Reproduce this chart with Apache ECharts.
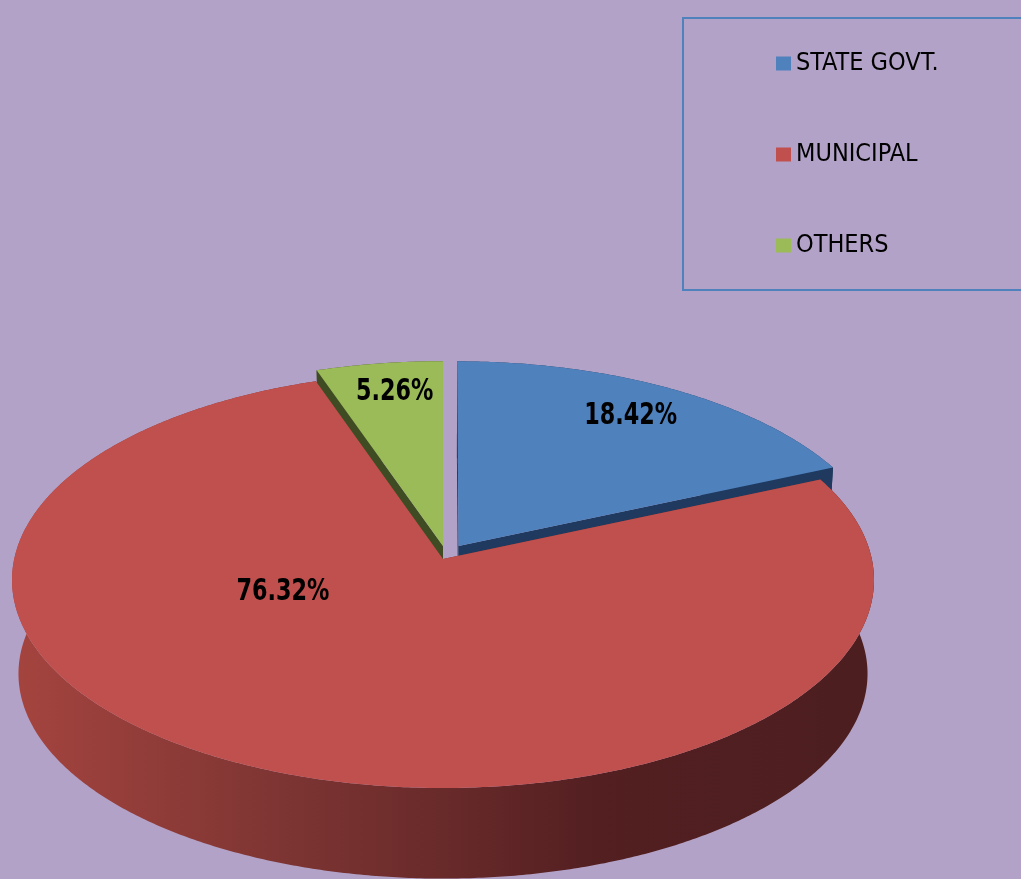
<!DOCTYPE html>
<html><head><meta charset="utf-8">
<script src="https://cdn.jsdelivr.net/npm/echarts@6/dist/echarts.min.js"></script>
<style>html,body{margin:0;padding:0;background:#B3A2C7}#c{width:1021px;height:879px}</style>
</head><body><div id="c"></div>
<script>
// ---- data ----
const categories = ['STATE GOVT.', 'MUNICIPAL', 'OTHERS'];
const counts = [7, 29, 2];

// ---- styles / layout ----
const topColors = ['#4F81BD', '#C0504D', '#9BBB59'];
const cutColors = ['#1F3A5E', '#7A3232', '#3F4B22'];
const geo = {cx: 443, cy: 580, rx: 431, ry: 208, vb: -0.101, depth: 94, shrink: 0.985};
const explode = [{d: 0.073, a: -60}, {d: 0, a: 0}, {d: 0.064, a: -90}];
const labelPos = [{r: 0.81, a: -57.6}, {r: 0.40, a: 156.7}, {r: 0.83, a: -98.5}];
const narrow = '"Liberation Sans Narrow", "Arial Narrow", "DejaVu Sans Condensed", sans-serif';

const total = counts.reduce((a, b) => a + b, 0);
const gamma = 1 / Math.sqrt(1 - geo.vb * geo.vb);
const rad = d => d * Math.PI / 180;
function project(x, y) {
  const den = 1 + geo.vb * y;
  return [geo.cx + geo.rx * x / (gamma * den), geo.cy + geo.ry * (y + geo.vb) / den];
}
const P = project(0, 0);
function lower(pt) {
  return [P[0] + geo.shrink * (pt[0] - P[0]), P[1] + geo.shrink * (pt[1] - P[1]) + geo.depth];
}
const sideFill = (i) => i === 1 ? new echarts.graphic.LinearGradient(12, 0, 874, 0, [
  {offset: 0, color: '#A5443F'}, {offset: 0.33, color: '#7B3432'}, {offset: 0.5, color: '#692A2A'},
  {offset: 0.68, color: '#531F21'}, {offset: 1, color: '#4C1E20'}], true) : cutColors[i];

function makeRender(i) {
  return function (params, api) {
    const val = api.value(0);
    let cum = 0;
    for (let k = 0; k < i; k++) cum += counts[k];
    const a0 = -90 + 360 * cum / total;
    const a1 = a0 + 360 * val / total;
    const ex = explode[i];
    const ox = ex.d * Math.cos(rad(ex.a)), oy = ex.d * Math.sin(rad(ex.a));
    const arc = [];
    const steps = Math.max(4, Math.ceil((a1 - a0) / 0.5));
    for (let s = 0; s <= steps; s++) {
      const t = rad(a0 + (a1 - a0) * s / steps);
      arc.push(project(Math.cos(t) + ox, Math.sin(t) + oy));
    }
    const apex = project(ox, oy);
    const children = [];
    const wall = arc.concat(arc.slice().reverse().map(lower));
    children.push({type: 'polygon', shape: {points: wall}, style: {fill: sideFill(i)}, z2: 0});
    const first = arc[0], last = arc[arc.length - 1];
    children.push({type: 'polygon', shape: {points: [apex, first, lower(first), lower(apex)]}, style: {fill: cutColors[i]}, z2: 1});
    children.push({type: 'polygon', shape: {points: [apex, last, lower(last), lower(apex)]}, style: {fill: cutColors[i]}, z2: 1});
    children.push({type: 'polygon', shape: {points: [apex].concat(arc)}, style: {fill: topColors[i]}, z2: 2});
    const lp = labelPos[i];
    const lxy = project(lp.r * Math.cos(rad(lp.a)) + ox, lp.r * Math.sin(rad(lp.a)) + oy);
    children.push({type: 'text', z2: 5, x: lxy[0], y: lxy[1], scaleX: 0.8, style: {
      text: (val / total * 100).toFixed(2) + '%', x: 0, y: 0,
      align: 'center', verticalAlign: 'middle', fill: '#000',
      fontSize: 31, fontWeight: 'bold', fontFamily: narrow}});
    return {type: 'group', children: children};
  };
}

const chart = echarts.init(document.getElementById('c'));
chart.setOption({
  backgroundColor: '#B3A2C7',
  animation: false,
  legend: {
    data: categories,
    orient: 'vertical',
    left: 683, top: 18,
    padding: [33, 300, 32, 93],
    borderColor: '#4F81BD', borderWidth: 2,
    itemWidth: 15, itemHeight: 14, itemGap: 66,
    icon: 'rect',
    selectedMode: false,
    textStyle: {color: '#000', fontSize: 25, lineHeight: 25, fontFamily: narrow}
  },
  series: categories.map((name, i) => ({
    type: 'custom',
    name: name,
    coordinateSystem: 'none',
    silent: true,
    itemStyle: {color: topColors[i]},
    data: [[counts[i]]],
    renderItem: makeRender(i)
  }))
});
</script></body></html>
